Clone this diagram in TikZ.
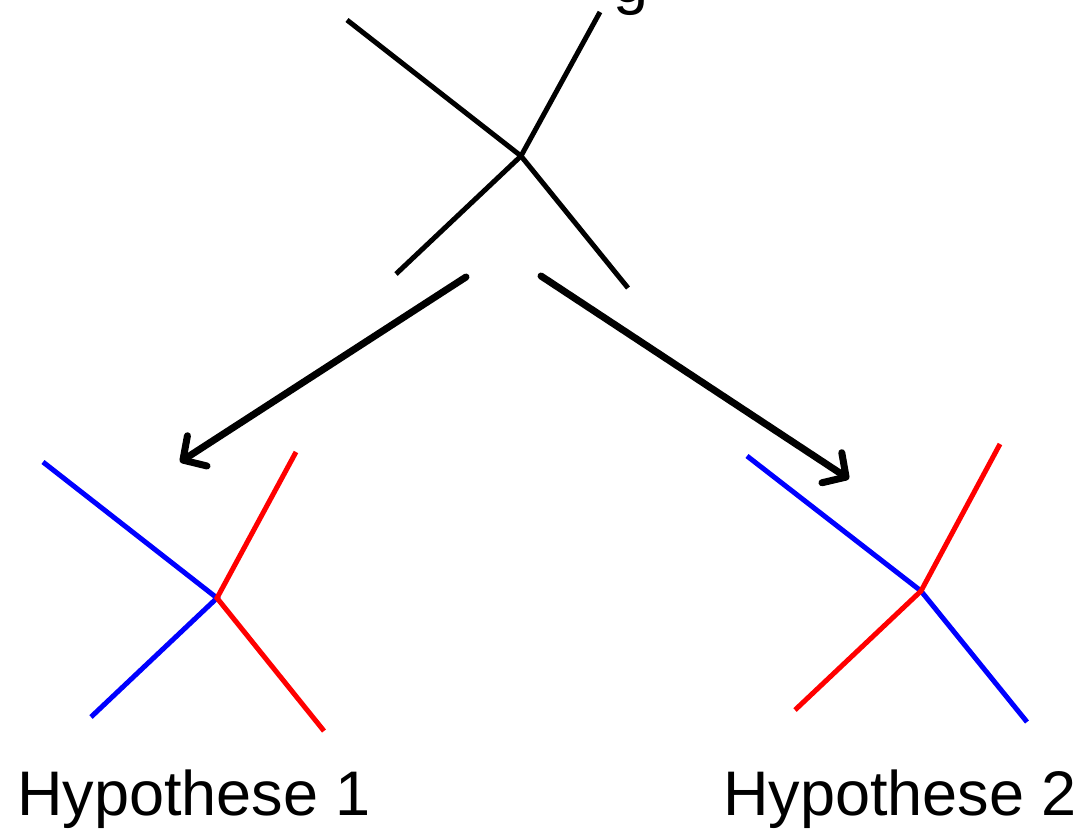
\documentclass[tikz,border=0pt]{standalone}
\usepackage{fontspec}
\setmainfont{Liberation Sans}
\usetikzlibrary{arrows.meta}
\begin{document}
\begin{tikzpicture}[x=1pt,y=-1pt,
  branch/.style={line width=5pt},
  blk/.style={branch,black},
  blu/.style={branch,blue},
  rd/.style={branch,red},
  move/.style={line width=7pt,line cap=round,
    -{Straight Barb[length=17pt,width=36pt,line cap=round,line join=round]}},
  label/.style={font=\fontsize{63}{70}\selectfont,inner sep=0pt}]
\useasboundingbox (0,0) rectangle (1086,830);

% starting tree
\coordinate (t) at (521,156);
\coordinate (ta) at (347,20);
\coordinate (tb) at (600,12);
\coordinate (tc) at (396,274);
\coordinate (td) at (628,288);
\draw[blk] (ta) -- (t) -- (td);
\draw[blk] (tb) -- (t) -- (tc);
\node[label,anchor=base west] (title) at (613,2) {g};

% arrows to both hypotheses
\coordinate (la) at (466,277);
\coordinate (lb) at (180,462);
\coordinate (ra) at (541,276);
\coordinate (rb) at (849,479);
\draw[move] (la) -- (lb);
\draw[move] (ra) -- (rb);

% hypothesis 1
\coordinate (h) at (217,598);
\coordinate (ha) at (43,462);
\coordinate (hb) at (296,452);
\coordinate (hc) at (91,717);
\coordinate (hd) at (324,731);
\draw[blu] (ha) -- (h) -- (hc);
\draw[rd] (hb) -- (h) -- (hd);
\node[label,anchor=base west] (l1) at (17,815) {Hypothese 1};

% hypothesis 2
\coordinate (k) at (921,591);
\coordinate (ka) at (747,456);
\coordinate (kb) at (1000,444);
\coordinate (kc) at (795,710);
\coordinate (kd) at (1027,722);
\draw[blu] (ka) -- (k) -- (kd);
\draw[rd] (kb) -- (k) -- (kc);
\node[label,anchor=base west] (l2) at (723,815) {Hypothese 2};
\end{tikzpicture}
\end{document}
